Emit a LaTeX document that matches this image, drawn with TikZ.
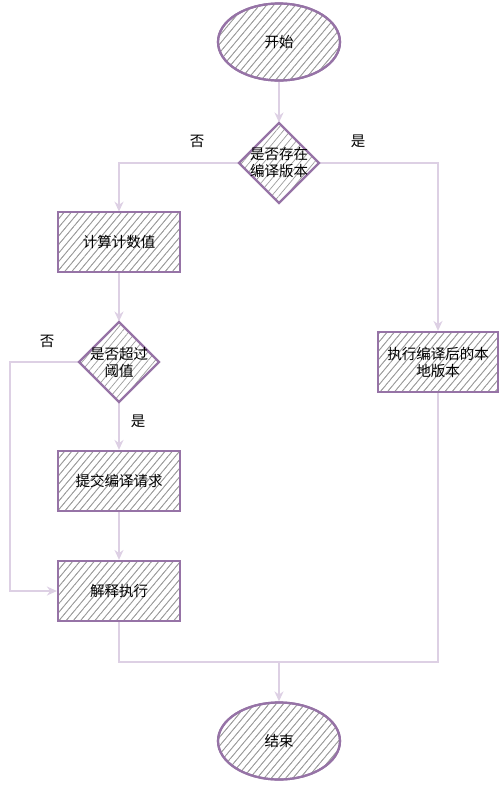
\documentclass[tikz,border=0pt]{standalone}
\usepackage{fontspec}
\setmainfont{Noto Sans CJK SC}
\usetikzlibrary{shapes.geometric,arrows.meta,patterns.meta}
\definecolor{bord}{HTML}{9673A6}
\definecolor{edgec}{HTML}{DDD0E4}
\definecolor{hatch}{HTML}{9C9C9C}
\tikzset{
  base/.style={draw=bord, line width=2.2pt, font=\fontsize{14.5}{17}\selectfont, align=center, inner sep=0pt,
    pattern={Lines[angle=50,distance=5.5pt,line width=0.7pt]}, pattern color=hatch},
  term/.style={base, ellipse, minimum width=122pt, minimum height=77pt},
  proc/.style={base, rectangle, minimum width=122pt, minimum height=60pt},
  dec/.style={base, diamond, minimum width=81pt, minimum height=81pt, aspect=1},
  conn/.style={draw=edgec, line width=2.6pt, -{Stealth[length=10pt,width=9pt]}},
  plain/.style={draw=edgec, line width=2.6pt},
  lbl/.style={font=\fontsize{14.5}{17}\selectfont, inner sep=0pt, align=center}
}
\begin{document}
\begin{tikzpicture}[x=1pt,y=-1pt]
\useasboundingbox (0,0) rectangle (501,785);
\coordinate (merge) at (279,662);
\coordinate (lx) at (10,362);
\coordinate (d1w) at (238.5,163);
\coordinate (d1e) at (319.5,163);
\coordinate (d1n) at (279,122.5);
\coordinate (d2w) at (78.5,362);
\coordinate (d2n) at (119,321.5);
\coordinate (d2s) at (119,402.5);
% connectors
\node[proc] (calc) at (119,242) {};
\node[proc] (submit) at (119,481) {};
\node[proc] (interp) at (119,591) {};
\node[proc, minimum width=120pt] (exec) at (438,362) {};
\node[term] (start) at (279,42) {};
\node[term] (end) at (279,741) {};
\draw[conn] (start.south) -- (d1n);
\draw[conn] (d1w) -| (calc.north);
\draw[conn] (d1e) -| (exec.north);
\draw[conn] (calc.south) -- (d2n);
\draw[conn] (d2s) -- (submit.north);
\draw[conn] (d2w) -- (lx) |- (interp.west);
\draw[conn] (submit) -- (interp);
\draw[plain] (interp.south) |- (merge);
\draw[plain] (exec.south) |- (merge);
\draw[conn] (merge) -- (end);
% nodes
\node[term] at (279,42) {开始};
\node[dec] (d1) at (279,163) {};
\node[lbl] (t1) at (279,163) {是否存在\\编译版本};
\node[proc] at (119,242) {计算计数值};
\node[dec] (d2) at (119,362) {};
\node[lbl] (t2) at (119,362) {是否超过\\阈值};
\node[proc] at (119,481) {提交编译请求};
\node[proc] at (119,591) {解释执行};
\node[proc, minimum width=120pt] at (438,362) {执行编译后的本\\地版本};
\node[term] at (279,741) {结束};
% labels
\node[lbl] (l1) at (197,141) {否};
\node[lbl] (l2) at (358,141) {是};
\node[lbl] (l3) at (47,341) {否};
\node[lbl] (l4) at (138,421) {是};
\end{tikzpicture}
\end{document}
